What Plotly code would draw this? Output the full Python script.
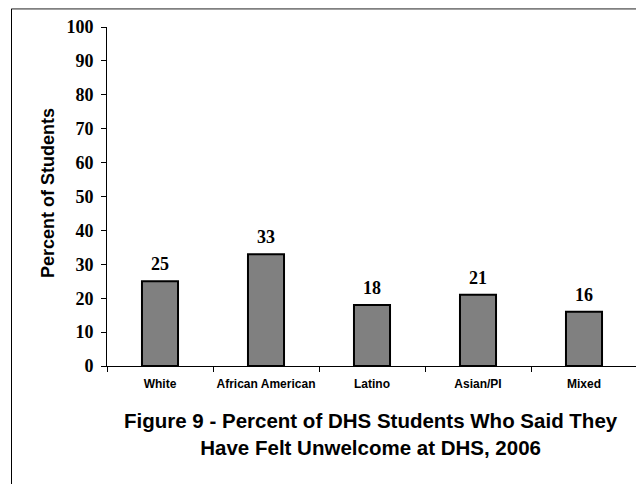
import plotly.graph_objects as go

categories = ["White", "African American", "Latino", "Asian/PI", "Mixed"]
values = [25, 33, 18, 21, 16]
y_ticks = list(range(0, 101, 10))

# page has an 8px body margin, so figure is 636x476 placed at (8,8)
PL, PR, PT, PB = 99, 629, 19, 358
W, H = 636, 476


def px(x):
    return (x - PL) / (PR - PL)


def py(y):
    return (PB - y) / (PB - PT)


fig = go.Figure(go.Bar(
    x=categories, y=values,
    marker=dict(color="#808080", line=dict(color="black", width=2)),
    width=0.34,
    cliponaxis=False,
))

value_labels = [
    dict(x=c, y=v, xref="x", yref="y", text="<b>%d</b>" % v, showarrow=False,
         xanchor="center", yanchor="middle", yshift=17,
         font=dict(family="Liberation Serif", size=18, color="black"))
    for c, v in zip(categories, values)
]

fig.update_layout(
    width=W, height=H,
    margin=dict(l=PL, r=W - PR, t=PT, b=H - PB),
    plot_bgcolor="white", paper_bgcolor="white",
    showlegend=False,
    font=dict(family="Liberation Sans", color="black"),
    xaxis=dict(
        showline=True, linecolor="black", linewidth=1,
        ticks="outside", ticklen=5, tickcolor="black", tickson="boundaries",
        tickangle=0, ticklabelstandoff=7,
        tickfont=dict(family="Liberation Sans", size=12, color="black", weight="bold"),
        showgrid=False,
    ),
    yaxis=dict(
        range=[0, 100], tickvals=y_ticks,
        showline=True, linecolor="black", linewidth=1,
        ticks="outside", ticklen=5, tickcolor="black", ticklabelstandoff=4,
        tickfont=dict(family="Liberation Serif", size=18, color="black", weight="bold"),
        showgrid=False, zeroline=False,
    ),
    annotations=value_labels + [
        dict(text="<b>Percent of Students</b>", x=px(40), y=py(185), xref="paper", yref="paper",
             xanchor="center", yanchor="middle",
             textangle=-90, showarrow=False, font=dict(family="Liberation Sans", size=18)),
        dict(text="<b>Figure 9 - Percent of DHS Students Who Said They<br>Have Felt Unwelcome at DHS, 2006</b>",
             x=px(363), y=py(426.5), xref="paper", yref="paper", showarrow=False,
             xanchor="center", yanchor="middle",
             font=dict(family="Liberation Sans", size=20.5), align="center"),
    ],
    shapes=[
        dict(type="line", xref="paper", yref="paper", x0=px(3.5), x1=px(W + 5),
             y0=py(0.8), y1=py(0.8), line=dict(color="#808080", width=2)),
        dict(type="line", xref="paper", yref="paper", x0=px(3.5), x1=px(3.5),
             y0=py(0.8), y1=py(H + 5), line=dict(color="black", width=1)),
    ],
)

fig.write_html("out.html")
